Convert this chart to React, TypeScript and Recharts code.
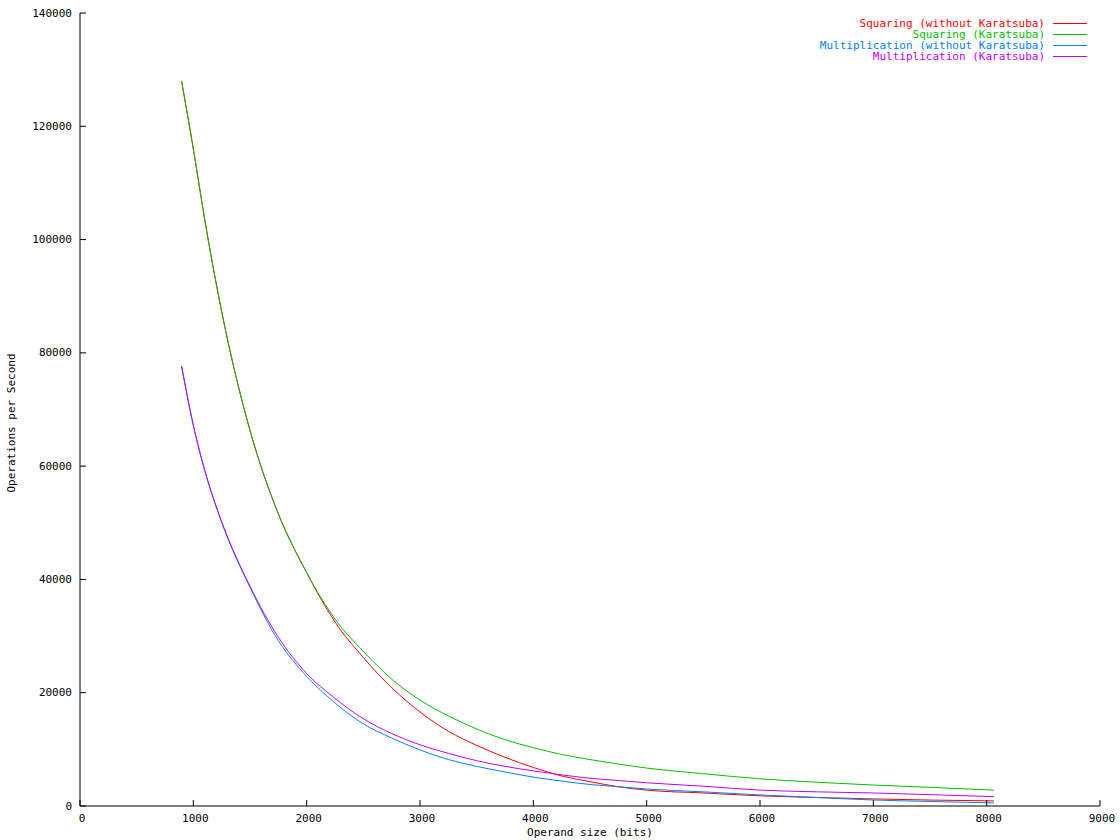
import { LineChart, Line, XAxis, YAxis } from 'recharts';

const operandBits = [896, 1000, 1100, 1250, 1500, 1750, 2000, 2250, 2500, 2750, 3000, 3250, 3500, 3750, 4000, 4250, 4500, 4750, 5000, 5500, 6000, 6500, 7000, 7500, 8064];
const squaringPlain = [128000, 116000, 103600, 87300, 66300, 51600, 41200, 32500, 26200, 20900, 16600, 13200, 10700, 8600, 6800, 5300, 4300, 3400, 2800, 2300, 1800, 1500, 1250, 1050, 900];
const squaringKaratsuba = [128000, 116000, 103600, 87300, 66300, 51600, 41200, 33000, 27300, 22400, 18700, 15900, 13600, 11700, 10300, 9100, 8200, 7400, 6700, 5700, 4800, 4200, 3700, 3300, 2800];
const multPlain = [77700, 67200, 59300, 50100, 38600, 29200, 22900, 18200, 14500, 12000, 9900, 8200, 7000, 6000, 5100, 4400, 3800, 3400, 3000, 2500, 1950, 1500, 1060, 800, 550];
const multKaratsuba = [77700, 67200, 59300, 50200, 38800, 29800, 23400, 19000, 15400, 12800, 10800, 9300, 8000, 7000, 6200, 5500, 4900, 4500, 4100, 3500, 2800, 2500, 2300, 2000, 1650];

const xTicks = [0, 1000, 2000, 3000, 4000, 5000, 6000, 7000, 8000, 9000];
const yTicks = [0, 20000, 40000, 60000, 80000, 100000, 120000, 140000];

const seriesInfo = [
  { key: 'sqPlain', name: 'Squaring (without Karatsuba)', color: '#ff0000' },
  { key: 'sqKara', name: 'Squaring (Karatsuba)', color: '#00c000' },
  { key: 'mulPlain', name: 'Multiplication (without Karatsuba)', color: '#0080ff' },
  { key: 'mulKara', name: 'Multiplication (Karatsuba)', color: '#c000ff' },
];

const data = operandBits.map((bits, i) => ({
  bits,
  sqPlain: squaringPlain[i],
  sqKara: squaringKaratsuba[i],
  mulPlain: multPlain[i],
  mulKara: multKaratsuba[i],
}));

const FONT = '"DejaVu Sans Mono", monospace';

function BottomTick({ x, y, payload }: any) {
  return (
    <g>
      <line x1={x} y1={y} x2={x} y2={y - 6} stroke="#000" />
      <text x={x + 2} y={y + 12} textAnchor="middle" dominantBaseline="central" fontFamily={FONT} fontSize={11} fill="#000">
        {payload.value}
      </text>
    </g>
  );
}

function TopTick({ x, y, payload }: any) {
  if (payload.value === 0 || payload.value === 9000) return <g />;
  return <line x1={x} y1={y} x2={x} y2={y + 6} stroke="#000" />;
}

function LeftTick({ x, y, payload }: any) {
  return (
    <g>
      <line x1={x} y1={y} x2={x + 6} y2={y} stroke="#000" />
      <text x={x - 8} y={y} textAnchor="end" dominantBaseline="central" fontFamily={FONT} fontSize={11} fill="#000">
        {payload.value}
      </text>
    </g>
  );
}

function RightTick({ x, y, payload }: any) {
  if (payload.value === 0 || payload.value === 140000) return <g />;
  return <line x1={x} y1={y} x2={x - 6} y2={y} stroke="#000" />;
}

function KeyBox() {
  return (
    <div style={{ position: 'absolute', top: 18, left: 0, width: 1087, fontFamily: FONT, fontSize: 11, lineHeight: '11px' }}>
      {seriesInfo.map(s => (
        <div key={s.key} style={{ display: 'flex', justifyContent: 'flex-end', alignItems: 'center', height: 11 }}>
          <span style={{ color: s.color, whiteSpace: 'pre' }}>{s.name}</span>
          <span style={{ display: 'inline-block', width: 34, height: 1, background: s.color, marginLeft: 8 }} />
        </div>
      ))}
    </div>
  );
}

export default function App() {
  return (
    <div style={{ position: 'absolute', left: 0, top: 0, width: 1120, height: 840, background: '#fff' }}>
      <LineChart width={1120} height={840} data={data} margin={{ top: 13, right: 20, bottom: 0, left: 0 }}>
        <XAxis
          dataKey="bits"
          type="number"
          domain={[0, 9000]}
          ticks={xTicks}
          interval={0}
          height={34}
          tickSize={0}
          tickMargin={0}
          tickLine={false}
          axisLine={{ stroke: '#000' }}
          tick={<BottomTick />}
          label={{
            content: () => (
              <text x={590} y={832} textAnchor="middle" dominantBaseline="central" fontFamily={FONT} fontSize={11} fill="#000">
                Operand size (bits)
              </text>
            ),
          }}
        />
        <XAxis
          xAxisId="top"
          orientation="top"
          dataKey="bits"
          type="number"
          domain={[0, 9000]}
          ticks={xTicks}
          interval={0}
          height={0}
          tickSize={0}
          tickMargin={0}
          tickLine={false}
          axisLine={{ stroke: '#000' }}
          tick={<TopTick />}
        />
        <YAxis
          type="number"
          domain={[0, 140000]}
          ticks={yTicks}
          interval={0}
          width={80}
          tickSize={0}
          tickMargin={0}
          tickLine={false}
          axisLine={{ stroke: '#000' }}
          tick={<LeftTick />}
          label={{
            content: () => (
              <text
                x={11}
                y={423}
                transform="rotate(-90 11 423)"
                textAnchor="middle"
                dominantBaseline="central"
                fontFamily={FONT}
                fontSize={11}
                fill="#000"
              >
                Operations per Second
              </text>
            ),
          }}
        />
        <YAxis
          yAxisId="right"
          orientation="right"
          type="number"
          domain={[0, 140000]}
          ticks={yTicks}
          interval={0}
          width={0}
          tickSize={0}
          tickMargin={0}
          tickLine={false}
          axisLine={{ stroke: '#000' }}
          tick={<RightTick />}
        />
        {seriesInfo.map(s => (
          <Line
            key={s.key}
            type="monotone"
            dataKey={s.key}
            name={s.name}
            stroke={s.color}
            strokeWidth={1}
            dot={false}
            activeDot={false}
            isAnimationActive={false}
          />
        ))}
      </LineChart>
      <KeyBox />
    </div>
  );
}
